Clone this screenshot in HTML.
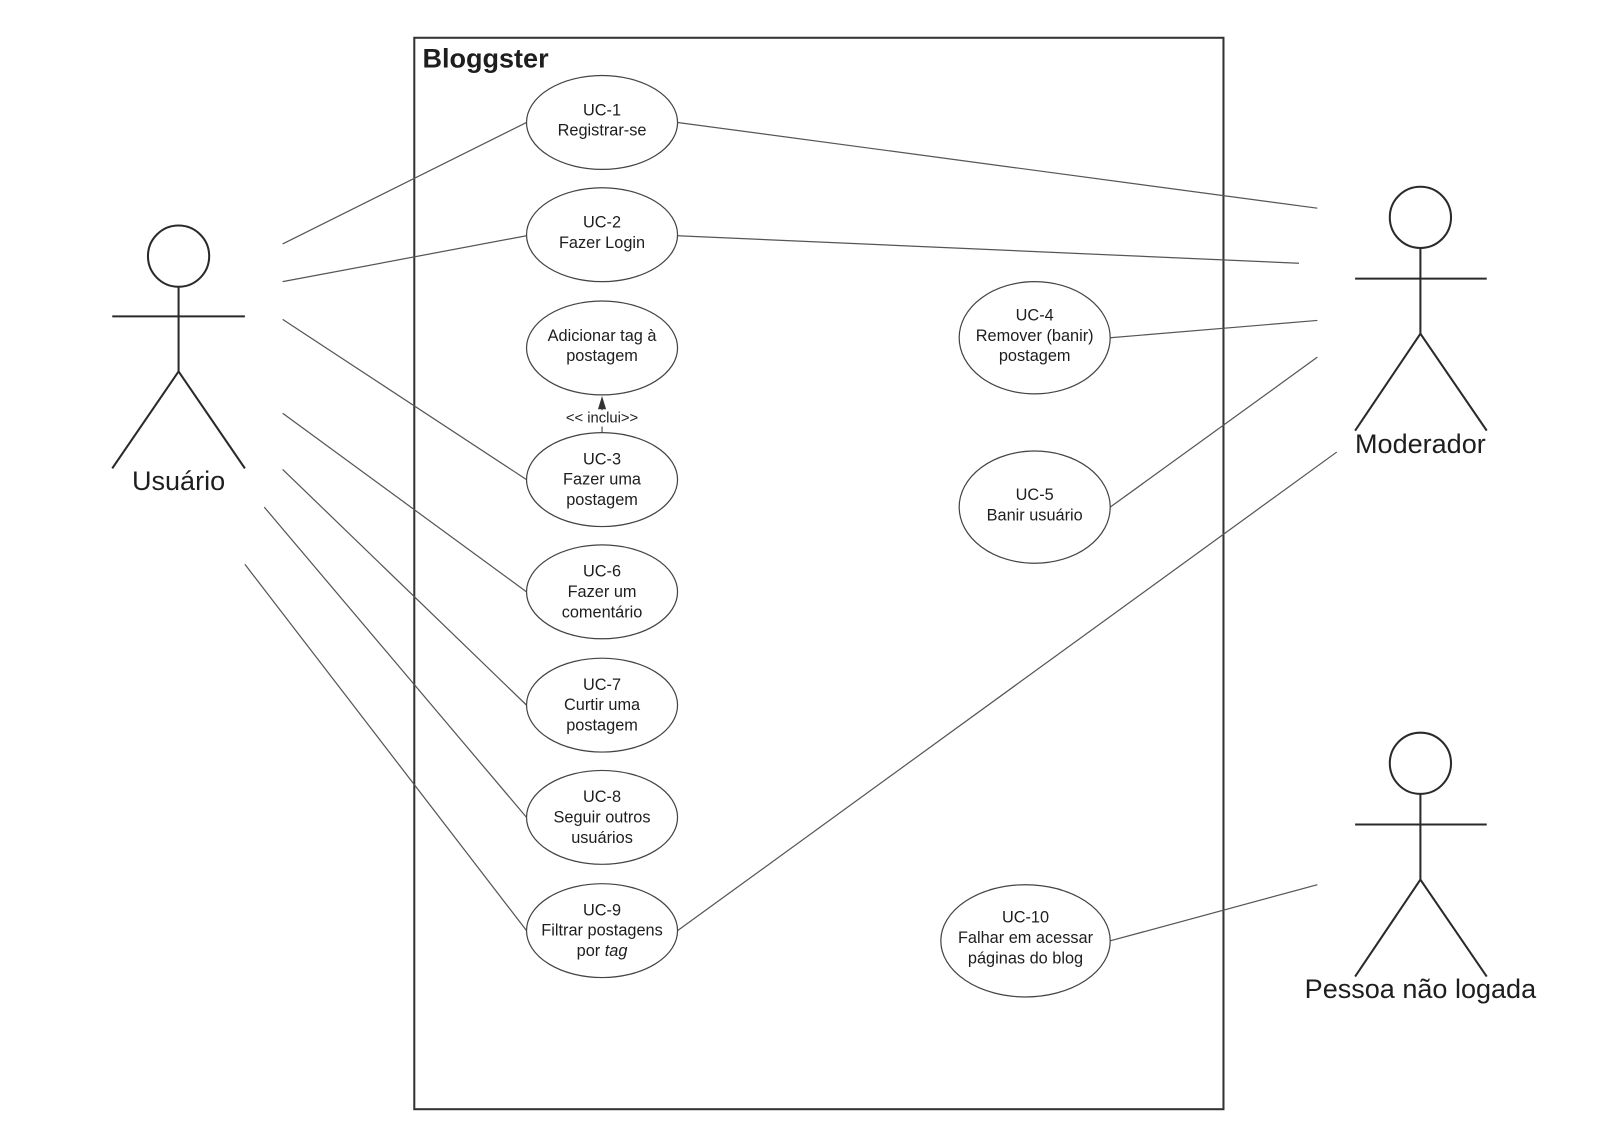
<!DOCTYPE html>
<html><head><meta charset="utf-8"><style>
html,body{margin:0;padding:0;background:#fff;}
svg{display:block;}
text{font-family:"Liberation Sans",sans-serif;fill:#1e1e1e;}
</style></head><body>
<svg width="1600" height="1148" viewBox="0 0 1568 1125" xmlns="http://www.w3.org/2000/svg">
<rect x="0" y="0" width="1568" height="1125" fill="#fff"/>
<rect x="406" y="37" width="793" height="1050" fill="none" stroke="#333" stroke-width="2"/>
<text x="414" y="66" font-size="26.5" font-weight="bold" fill="#282c33">Bloggster</text>
<g stroke="#555" stroke-width="1.2" fill="none">
<line x1="277" y1="239" x2="516" y2="120"/>
<line x1="277" y1="276" x2="516" y2="231"/>
<line x1="277" y1="313" x2="516" y2="470"/>
<line x1="277" y1="405" x2="516" y2="580"/>
<line x1="277" y1="460" x2="516" y2="691"/>
<line x1="259" y1="497" x2="516" y2="801"/>
<line x1="240" y1="553" x2="516" y2="912"/>
<line x1="664" y1="120" x2="1291" y2="204"/>
<line x1="664" y1="231" x2="1273" y2="258"/>
<line x1="1088" y1="331" x2="1291" y2="314"/>
<line x1="1088" y1="497" x2="1291" y2="350"/>
<line x1="664" y1="912" x2="1310" y2="443"/>
<line x1="1088" y1="922" x2="1291" y2="867"/>
<line x1="590" y1="424" x2="590" y2="400"/>
</g>
<polygon points="590,388 586,401 594,401" fill="#333"/>
<rect x="548" y="402" width="84" height="16" fill="#fff"/>
<text x="590" y="414" font-size="14.5" text-anchor="middle">&lt;&lt; inclui&gt;&gt;</text>
<g stroke="#444" stroke-width="1.2" fill="#fff">
<ellipse cx="590" cy="120" rx="74" ry="46"/>
<ellipse cx="590" cy="230" rx="74" ry="46"/>
<ellipse cx="590" cy="341" rx="74" ry="46"/>
<ellipse cx="590" cy="470" rx="74" ry="46"/>
<ellipse cx="590" cy="580" rx="74" ry="46"/>
<ellipse cx="590" cy="691" rx="74" ry="46"/>
<ellipse cx="590" cy="801" rx="74" ry="46"/>
<ellipse cx="590" cy="912" rx="74" ry="46"/>
<ellipse cx="1014" cy="331" rx="74" ry="55"/>
<ellipse cx="1014" cy="497" rx="74" ry="55"/>
<ellipse cx="1005" cy="922" rx="83" ry="55"/>
</g>
<g font-size="16" text-anchor="middle">
<text x="590" y="113">UC-1</text><text x="590" y="133">Registrar-se</text>
<text x="590" y="223">UC-2</text><text x="590" y="243">Fazer Login</text>
<text x="590" y="334">Adicionar tag à</text><text x="590" y="354">postagem</text>
<text x="590" y="455">UC-3</text><text x="590" y="475">Fazer uma</text><text x="590" y="495">postagem</text>
<text x="590" y="565">UC-6</text><text x="590" y="585">Fazer um</text><text x="590" y="605">comentário</text>
<text x="590" y="676">UC-7</text><text x="590" y="696">Curtir uma</text><text x="590" y="716">postagem</text>
<text x="590" y="786">UC-8</text><text x="590" y="806">Seguir outros</text><text x="590" y="826">usuários</text>
<text x="590" y="897">UC-9</text><text x="590" y="917">Filtrar postagens</text><text x="590" y="937">por <tspan font-style="italic">tag</tspan></text>
<text x="1014" y="314">UC-4</text><text x="1014" y="334">Remover (banir)</text><text x="1014" y="354">postagem</text>
<text x="1014" y="490">UC-5</text><text x="1014" y="510">Banir usuário</text>
<text x="1005" y="904">UC-10</text><text x="1005" y="924">Falhar em acessar</text><text x="1005" y="944">páginas do blog</text>
</g>
<g stroke="#2a2a2a" stroke-width="2" fill="none">
<circle cx="175" cy="251" r="30"/>
<line x1="175" y1="281" x2="175" y2="364"/><line x1="110" y1="310" x2="240" y2="310"/>
<polyline points="110,459 175,364 240,459"/>
<circle cx="1392" cy="213" r="30"/>
<line x1="1392" y1="243" x2="1392" y2="327"/><line x1="1328" y1="273" x2="1457" y2="273"/>
<polyline points="1328,422 1392,327 1457,422"/>
<circle cx="1392" cy="748" r="30"/>
<line x1="1392" y1="778" x2="1392" y2="862"/><line x1="1328" y1="808" x2="1457" y2="808"/>
<polyline points="1328,957 1392,862 1457,957"/>
</g>
<g font-size="26.5" text-anchor="middle" fill="#282c33">
<text x="175" y="480">Usuário</text>
<text x="1392" y="444">Moderador</text>
<text x="1392" y="978">Pessoa não logada</text>
</g>
</svg>
</body></html>
